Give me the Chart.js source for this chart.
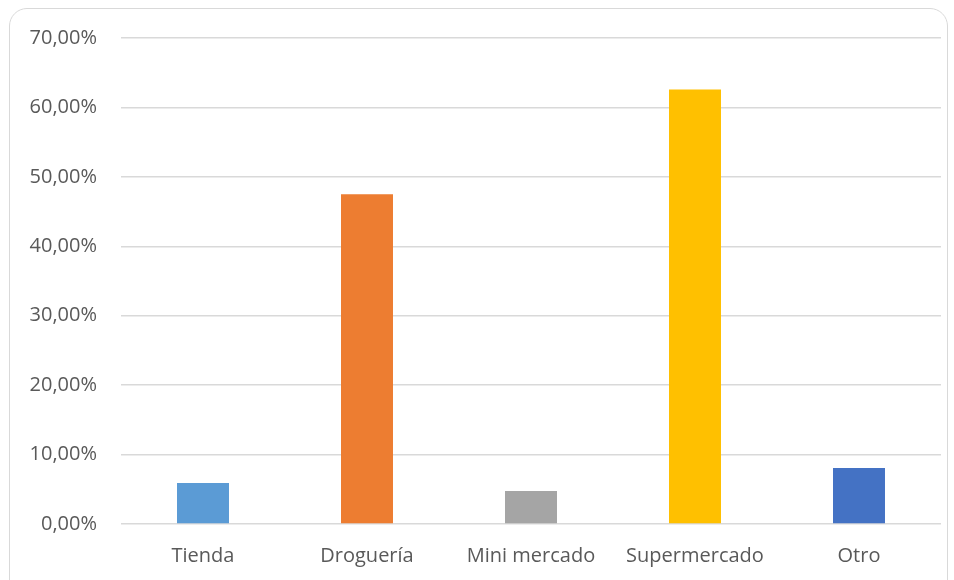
<!DOCTYPE html>
<html>
<head>
<meta charset="utf-8">
<script src="https://cdn.jsdelivr.net/npm/chart.js@4/dist/chart.umd.min.js"></script>
<style>
    html, body { margin: 0; padding: 0; background: #fff; overflow: hidden; }
    #wrap { position: relative; width: 954px; height: 580px; }
    #frame {
        position: absolute; left: 9px; top: 8px; width: 937px; height: 600px;
        border: 1.5px solid #d9d9d9; border-radius: 18px; pointer-events: none;
    }
</style>
</head>
<body>
<div id="wrap">
    <canvas id="chart" width="954" height="580"></canvas>
    <div id="frame"></div>
</div>
<script>
// Lugar de compra - porcentaje por tipo de establecimiento
const categories = ['Tienda', 'Droguería', 'Mini mercado', 'Supermercado', 'Otro'];
const percentages = [5.9, 47.5, 4.76, 62.6, 8.08];
const barColors = ['#5B9BD5', '#ED7D31', '#A5A5A5', '#FFC000', '#4472C4'];
const yTicks = [0, 10, 20, 30, 40, 50, 60, 70];

const fmt = v => v.toFixed(2).replace('.', ',') + '%';

new Chart(document.getElementById('chart'), {
    type: 'bar',
    data: {
        labels: categories,
        datasets: [{
            data: percentages,
            backgroundColor: barColors,
            categoryPercentage: 1,
            barPercentage: 0.317
        }]
    },
    options: {
        responsive: false,
        animation: false,
        layout: { padding: { top: 38, right: 13, left: 0, bottom: 0 } },
        plugins: { legend: { display: false }, tooltip: { enabled: false } },
        scales: {
            x: {
                grid: { display: false },
                border: { display: false },
                ticks: {
                    color: '#595959', padding: 12,
                    font: { family: 'Open Sans', size: 20 }
                },
                afterFit(scale) { scale.height = 56; }
            },
            y: {
                min: 0, max: 70,
                afterBuildTicks(scale) { scale.ticks = yTicks.map(v => ({ value: v })); },
                grid: { color: '#d9d9d9', lineWidth: 1.5, drawTicks: false },
                border: { display: false },
                ticks: {
                    color: '#595959', padding: 24,
                    font: { family: 'Open Sans', size: 20 },
                    callback: v => fmt(v)
                },
                afterFit(scale) { scale.width = 121; }
            }
        }
    }
});
</script>
</body>
</html>
